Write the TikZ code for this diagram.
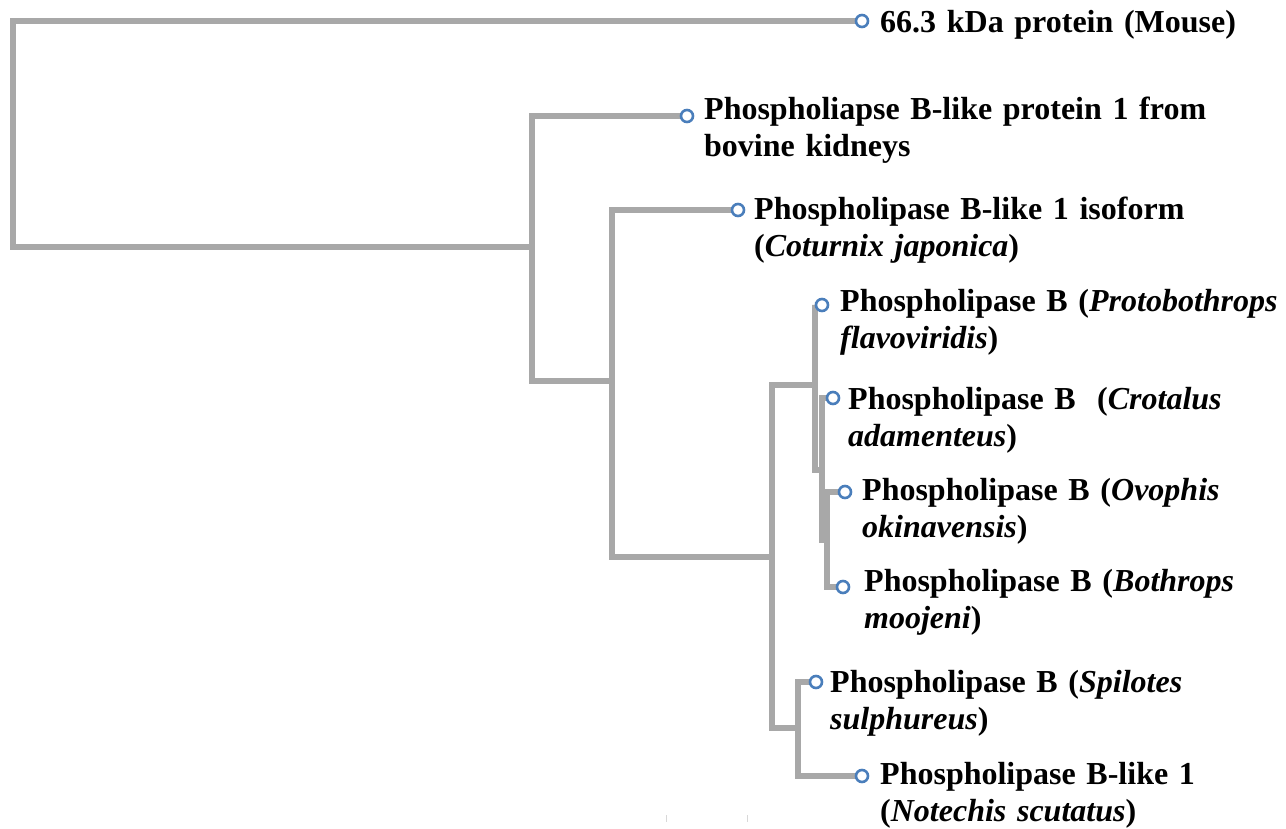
\documentclass[tikz,border=0pt]{standalone}
\usepackage{fontspec}
\setmainfont{Liberation Serif}
\usetikzlibrary{positioning,backgrounds}
\definecolor{branch}{HTML}{A8A8A8}
\definecolor{leafline}{HTML}{4A7EBB}
\definecolor{tickgray}{HTML}{D8D8D8}
\tikzset{
  tline/.style={line width=5.5pt,draw=branch},
  tleaf/.style={circle,draw=leafline,fill=white,line width=2.6pt,minimum size=12pt,inner sep=0pt},
  tlabel/.style={anchor=base west,inner sep=0pt,text width=520pt,align=left},
  ttick/.style={line width=1pt,draw=tickgray}
}
\begin{document}
\begin{tikzpicture}[x=1pt,y=-1pt,font=\fontsize{32}{37.5}\selectfont\bfseries]
  \useasboundingbox (0,0) rectangle (1286,828);
  % leaves
  \node[tleaf] (mouse) at (862,21) {};
  \node[tleaf] (bovine) at (687,116) {};
  \node[tleaf] (coturnix) at (738,210) {};
  \node[tleaf] (proto) at (822,305) {};
  \node[tleaf] (crotalus) at (833,398) {};
  \node[tleaf] (ovophis) at (845,492) {};
  \node[tleaf] (bothrops) at (843,587) {};
  \node[tleaf] (spilotes) at (816,682) {};
  \node[tleaf] (notechis) at (862,776) {};
  % labels
  \node[tlabel] (tmouse) at (880,32.5) {66.3 kDa protein (Mouse)};
  \node[tlabel] (tbovine) at (704,119) {Phospholiapse B-like protein 1 from\\bovine kidneys};
  \node[tlabel] (tcoturnix) at (754,219) {Phospholipase B-like 1 isoform\\(\textit{Coturnix japonica})};
  \node[tlabel] (tproto) at (840,311) {Phospholipase B (\textit{Protobothrops}\\\textit{flavoviridis})};
  \node[tlabel] (tcrotalus) at (848,409) {Phospholipase B\ \ (\textit{Crotalus}\\\textit{adamenteus})};
  \node[tlabel] (tovophis) at (862,500) {Phospholipase B (\textit{Ovophis}\\\textit{okinavensis})};
  \node[tlabel] (tbothrops) at (864,591) {Phospholipase B (\textit{Bothrops}\\\textit{moojeni})};
  \node[tlabel] (tspilotes) at (830,692) {Phospholipase B (\textit{Spilotes}\\\textit{sulphureus})};
  \node[tlabel] (tnotechis) at (880,784) {Phospholipase B-like 1\\(\textit{Notechis scutatus})};
  % inner nodes
  \coordinate (root) at (13,134);
  \coordinate (n1) at (532,247);
  \coordinate (n2) at (612,381);
  \coordinate (n3) at (772,557);
  \coordinate (n4) at (815,385);
  \coordinate (n5) at (822,470);
  \coordinate (n6) at (827,540);
  \coordinate (n7) at (798,728);
  \begin{scope}[on background layer]
    \draw[tline] (root) |- (mouse);
    \draw[tline] (root) |- (n1);
    \draw[tline] (n1) |- (bovine);
    \draw[tline] (n1) |- (n2);
    \draw[tline] (n2) |- (coturnix);
    \draw[tline] (n2) |- (n3);
    \draw[tline] (n3) |- (n4);
    \draw[tline] (n3) |- (n7);
    \draw[tline] (n4) |- (proto);
    \draw[tline] (n4) |- (n5);
    \draw[tline] (n5) |- (crotalus);
    \draw[tline] (n5) |- (n6);
    \draw[tline] (n6) |- (ovophis);
    \draw[tline] (n6) |- (bothrops);
    \draw[tline] (n7) |- (spilotes);
    \draw[tline] (n7) |- (notechis);
  \end{scope}
  % scale ticks
  \coordinate (k1) at (666,815);
  \coordinate (k2) at (747,815);
  \draw[ttick] (k1) -- ++(0,7);
  \draw[ttick] (k2) -- ++(0,7);
\end{tikzpicture}
\end{document}
